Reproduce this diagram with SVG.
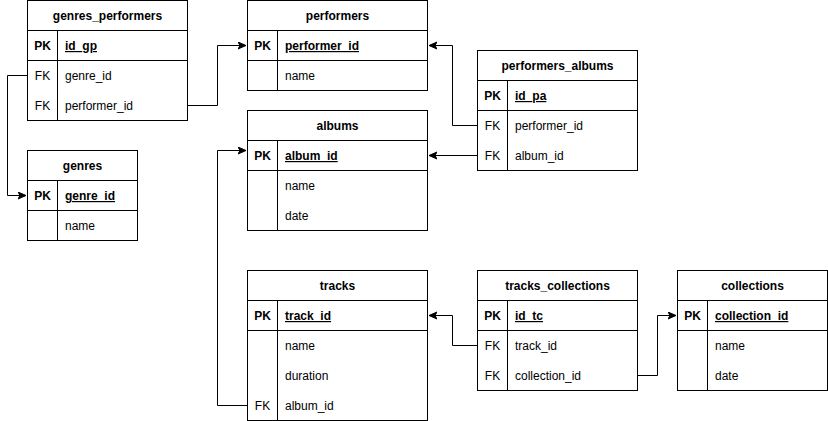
<svg xmlns="http://www.w3.org/2000/svg" width="828" height="421" viewBox="0 0 828 421">
  <style>
    .box { fill: #ffffff; stroke: #000000; stroke-width: 1; }
    .sep { stroke: #000000; stroke-width: 1; fill: none; }
    text { font-family: "Liberation Sans", Arial, Helvetica, sans-serif; font-size: 12px; fill: #000000; }
    .title { font-weight: bold; text-anchor: middle; }
    .key { text-anchor: middle; }
    .pk { font-weight: bold; }
    .pkval { font-weight: bold; text-decoration: underline; }
    .edge { fill: none; stroke: #000000; stroke-width: 1; marker-end: url(#arrow); }
  </style>
  <defs>
    <marker id="arrow" markerUnits="userSpaceOnUse" markerWidth="10" markerHeight="10" refX="8" refY="4" orient="auto">
      <path d="M0,0.5 L8,4 L0,7.5 L2,4 Z" fill="#000000" stroke="#000000" stroke-width="1"/>
    </marker>
  </defs>
  <rect width="828" height="421" fill="#ffffff"/>

  <!-- relationships -->
  <g id="connectors">
    <path class="edge" d="M27.5,75.5 H7.5 V195.5 H26"/>
    <path class="edge" d="M187.5,105.5 H217.5 V45.5 H246"/>
    <path class="edge" d="M477.5,125.5 H452.5 V45.5 H429"/>
    <path class="edge" d="M477.5,155.5 H429"/>
    <path class="edge" d="M247.5,405.5 H217.5 V150.5 H246"/>
    <path class="edge" d="M477.5,345.5 H452.5 V315.5 H429"/>
    <path class="edge" d="M637.5,375.5 H657.5 V315.5 H676"/>
  </g>

  <!-- genres_performers -->
  <g id="genres_performers">
    <rect class="box" x="27.5" y="0.5" width="160" height="120"/>
    <path class="sep" d="M27.5,30.5 H187.5 M27.5,60.5 H187.5 M57.5,30.5 V120.5"/>
    <text class="title" x="107.5" y="20">genres_performers</text>
    <text class="key pk" x="42.5" y="50">PK</text>
    <text class="pkval" x="65" y="50">id_gp</text>
    <text class="key" x="42.5" y="80">FK</text>
    <text x="65" y="80">genre_id</text>
    <text class="key" x="42.5" y="110">FK</text>
    <text x="65" y="110">performer_id</text>
  </g>

  <!-- performers -->
  <g id="performers">
    <rect class="box" x="247.5" y="0.5" width="180" height="90"/>
    <path class="sep" d="M247.5,30.5 H427.5 M247.5,60.5 H427.5 M277.5,30.5 V90.5"/>
    <text class="title" x="337.5" y="20">performers</text>
    <text class="key pk" x="262.5" y="50">PK</text>
    <text class="pkval" x="285" y="50">performer_id</text>
    <text x="285" y="80">name</text>
  </g>

  <!-- performers_albums -->
  <g id="performers_albums">
    <rect class="box" x="477.5" y="50.5" width="160" height="120"/>
    <path class="sep" d="M477.5,80.5 H637.5 M477.5,110.5 H637.5 M507.5,80.5 V170.5"/>
    <text class="title" x="557.5" y="70">performers_albums</text>
    <text class="key pk" x="492.5" y="100">PK</text>
    <text class="pkval" x="515" y="100">id_pa</text>
    <text class="key" x="492.5" y="130">FK</text>
    <text x="515" y="130">performer_id</text>
    <text class="key" x="492.5" y="160">FK</text>
    <text x="515" y="160">album_id</text>
  </g>

  <!-- albums -->
  <g id="albums">
    <rect class="box" x="247.5" y="110.5" width="180" height="120"/>
    <path class="sep" d="M247.5,140.5 H427.5 M247.5,170.5 H427.5 M277.5,140.5 V230.5"/>
    <text class="title" x="337.5" y="130">albums</text>
    <text class="key pk" x="262.5" y="160">PK</text>
    <text class="pkval" x="285" y="160">album_id</text>
    <text x="285" y="190">name</text>
    <text x="285" y="220">date</text>
  </g>

  <!-- genres -->
  <g id="genres">
    <rect class="box" x="27.5" y="150.5" width="110" height="90"/>
    <path class="sep" d="M27.5,180.5 H137.5 M27.5,210.5 H137.5 M57.5,180.5 V240.5"/>
    <text class="title" x="82.5" y="170">genres</text>
    <text class="key pk" x="42.5" y="200">PK</text>
    <text class="pkval" x="65" y="200">genre_id</text>
    <text x="65" y="230">name</text>
  </g>

  <!-- tracks -->
  <g id="tracks">
    <rect class="box" x="247.5" y="270.5" width="180" height="150"/>
    <path class="sep" d="M247.5,300.5 H427.5 M247.5,330.5 H427.5 M277.5,300.5 V420.5"/>
    <text class="title" x="337.5" y="290">tracks</text>
    <text class="key pk" x="262.5" y="320">PK</text>
    <text class="pkval" x="285" y="320">track_id</text>
    <text x="285" y="350">name</text>
    <text x="285" y="380">duration</text>
    <text class="key" x="262.5" y="410">FK</text>
    <text x="285" y="410">album_id</text>
  </g>

  <!-- tracks_collections -->
  <g id="tracks_collections">
    <rect class="box" x="477.5" y="270.5" width="160" height="120"/>
    <path class="sep" d="M477.5,300.5 H637.5 M477.5,330.5 H637.5 M507.5,300.5 V390.5"/>
    <text class="title" x="557.5" y="290">tracks_collections</text>
    <text class="key pk" x="492.5" y="320">PK</text>
    <text class="pkval" x="515" y="320">id_tc</text>
    <text class="key" x="492.5" y="350">FK</text>
    <text x="515" y="350">track_id</text>
    <text class="key" x="492.5" y="380">FK</text>
    <text x="515" y="380">collection_id</text>
  </g>

  <!-- collections -->
  <g id="collections">
    <rect class="box" x="677.5" y="270.5" width="150" height="120"/>
    <path class="sep" d="M677.5,300.5 H827.5 M677.5,330.5 H827.5 M707.5,300.5 V390.5"/>
    <text class="title" x="752.5" y="290">collections</text>
    <text class="key pk" x="692.5" y="320">PK</text>
    <text class="pkval" x="715" y="320">collection_id</text>
    <text x="715" y="350">name</text>
    <text x="715" y="380">date</text>
  </g>
</svg>
